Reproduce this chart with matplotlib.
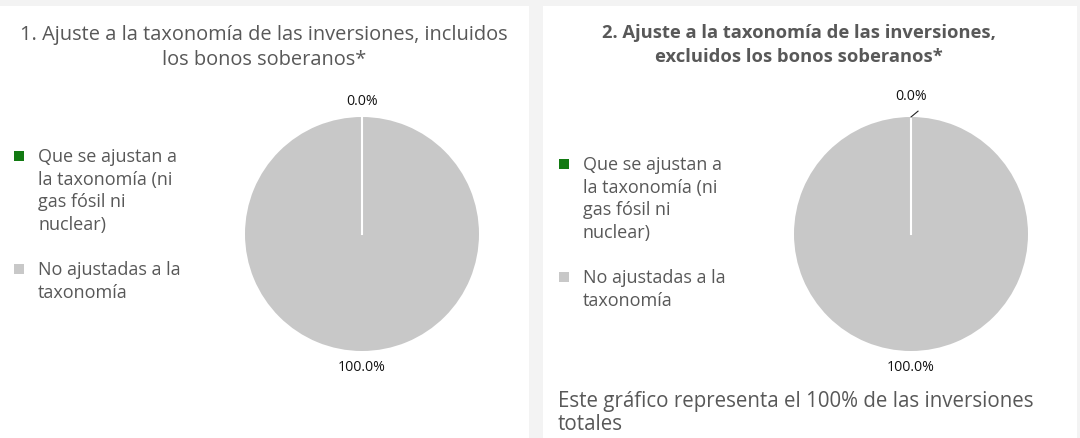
import numpy as np
import matplotlib.pyplot as plt
from matplotlib.patches import Rectangle

# data
categories = [['Que se ajustan a', 'la taxonomía (ni', 'gas fósil ni', 'nuclear)'],
              ['No ajustadas a la', 'taxonomía']]
incl_soberanos = [0.0, 100.0]
excl_soberanos = [0.0, 100.0]
colors = ['#127a12', '#c8c8c8']
titles = [['1. Ajuste a la taxonomía de las inversiones, incluidos', 'los bonos soberanos*'],
          ['2. Ajuste a la taxonomía de las inversiones,', 'excluidos los bonos soberanos*']]
note = ['Este gráfico representa el 100% de las inversiones', 'totales']

W, H = 1080, 439
fig = plt.figure(figsize=(W / 100, H / 100), dpi=100)
fig.patch.set_facecolor('#f3f3f3')

def px(x, y):
    # pixel coords (from top-left) -> figure fraction
    return x / W, 1 - y / H

# white cards
for x0, x1 in [(0, 529), (543, 1077)]:
    fig.patches.append(Rectangle((x0 / W, 0), (x1 - x0) / W, 1 - 7 / H,
                                 transform=fig.transFigure, facecolor='white',
                                 edgecolor='none', zorder=-5))

txt_color = '#585858'
FONT = ['Open Sans', 'DejaVu Sans']

def draw_pie(cx, cy, values, lab_top):
    r = 117
    half = r * 1.35
    ax = fig.add_axes([(cx - half) / W, (H - cy - half) / H, 2 * half / W, 2 * half / H])
    ax.set_zorder(2)
    wedges, _ = ax.pie(values, colors=colors, startangle=90, counterclock=False,
                       radius=1, wedgeprops=dict(edgecolor='none'))
    ax.set_xlim(-1.35, 1.35)
    ax.set_ylim(-1.35, 1.35)
    ax.set_aspect('equal')
    ax.axis('off')
    # white separator at the start of the (empty) first slice
    a = np.deg2rad(wedges[0].theta1)
    ax.plot([0, np.cos(a)], [0, np.sin(a)], color='white', lw=1.5)
    ax.text(0, lab_top, f'{values[0]:.1f}%', ha='center', va='center',
            fontsize=10.2, family=FONT, color='#111111')
    ax.text(0, -1.13, f'{values[1]:.1f}%', ha='center', va='center',
            fontsize=10.2, family=FONT, color='#111111')
    return ax

draw_pie(362, 235, incl_soberanos, 1.145)
ax2 = draw_pie(911, 235, excl_soberanos, 1.18)
# leader line for the small slice label
ax2.plot([0.0, 0.06], [1.0, 1.05], color='#222222', lw=0.8)

def lines(x, ys, texts, ha='left', **kw):
    for y, t in zip(ys, texts):
        fig.text(*px(x, y), t, ha=ha, va='center', family=FONT, color=txt_color, **kw)

# titles
lines(264, [35, 60], titles[0], ha='center', fontsize=14.4)
lines(799, [33, 57], titles[1], ha='center', fontsize=13.2, fontweight='bold')

# legends
def draw_legend(xsq, xtxt, ytop):
    y = ytop
    for cat, c in zip(categories, colors):
        fig.patches.append(Rectangle((xsq / W, 1 - (y + 5) / H), 10 / W, 10 / H,
                                     transform=fig.transFigure, facecolor=c,
                                     edgecolor='none'))
        ys = [y + 22.7 * i for i in range(len(cat))]
        lines(xtxt, ys, cat, fontsize=13)
        y = ys[-1] + 45

draw_legend(14, 38, 157)
draw_legend(559, 583, 165)

lines(558, [402, 425], note, fontsize=14.8)

fig.savefig('out.png', dpi=100, facecolor=fig.get_facecolor())
